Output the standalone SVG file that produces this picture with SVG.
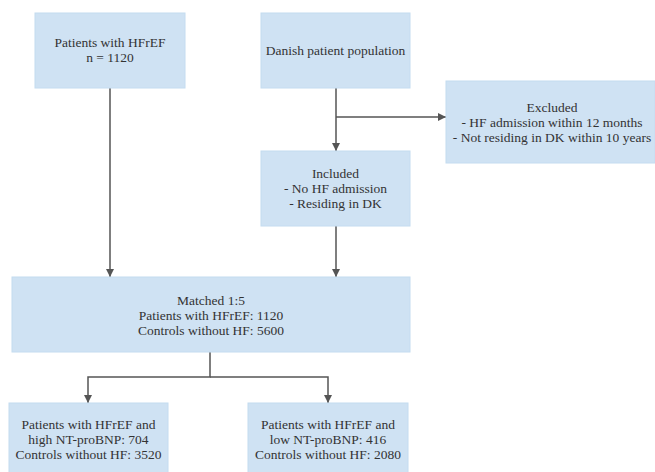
<svg xmlns="http://www.w3.org/2000/svg" width="655" height="472" viewBox="0 0 655 472">
<defs>
<style>
.box{fill:#cfe2f3;stroke:#c4dcf0;stroke-width:1}
text{font-family:'Liberation Serif','DejaVu Serif',serif;font-size:13.5px;fill:#333;text-anchor:middle}
.c{fill:none;stroke:#555;stroke-width:1.5}
</style>
<marker id="ah" viewBox="0 0 10 10" refX="10" refY="5" markerWidth="8" markerHeight="8" markerUnits="userSpaceOnUse" orient="auto">
<path d="M0,0 L10,5 L0,10 z" fill="#555"/>
</marker>
</defs>
<rect width="655" height="472" fill="#fff"/>
<g id="connectors">
<path class="c" d="M110,88 V277" marker-end="url(#ah)"/>
<path class="c" d="M336,88 V151" marker-end="url(#ah)"/>
<path class="c" d="M336,117 H446" marker-end="url(#ah)"/>
<path class="c" d="M336,226 V277" marker-end="url(#ah)"/>
<path class="c" d="M210,352 V377 H88 V403" marker-end="url(#ah)"/>
<path class="c" d="M210,377 H328 V403" marker-end="url(#ah)"/>
</g>
<g font-family="Liberation Serif, serif">
<g id="n-hfref">
<rect class="box" x="35" y="13" width="150" height="75"/>
<text x="110" y="47">Patients with HFrEF</text>
<text x="110" y="62">n = 1120</text>
</g>
<g id="n-danish">
<rect class="box" x="261" y="13" width="149" height="75"/>
<text x="335.5" y="55">Danish patient population</text>
</g>
<g id="n-excluded">
<rect class="box" x="446" y="81" width="209" height="82"/>
<text x="552" y="112">Excluded</text>
<text x="552" y="127">- HF admission within 12 months</text>
<text x="552" y="142">- Not residing in DK within 10 years</text>
</g>
<g id="n-included">
<rect class="box" x="261" y="151" width="149" height="75"/>
<text x="335.5" y="178">Included</text>
<text x="335.5" y="193">- No HF admission</text>
<text x="335.5" y="208">- Residing in DK</text>
</g>
<g id="n-matched">
<rect class="box" x="12" y="277" width="398" height="75"/>
<text x="211" y="305">Matched 1:5</text>
<text x="211" y="320">Patients with HFrEF: 1120</text>
<text x="211" y="335">Controls without HF: 5600</text>
</g>
<g id="n-high">
<rect class="box" x="9" y="403" width="159" height="72"/>
<text x="88.5" y="429">Patients with HFrEF and</text>
<text x="88.5" y="444">high NT-proBNP: 704</text>
<text x="88.5" y="459">Controls without HF: 3520</text>
</g>
<g id="n-low">
<rect class="box" x="248" y="403" width="160" height="72"/>
<text x="328" y="429">Patients with HFrEF and</text>
<text x="328" y="444">low NT-proBNP: 416</text>
<text x="328" y="459">Controls without HF: 2080</text>
</g>
</g>
</svg>
